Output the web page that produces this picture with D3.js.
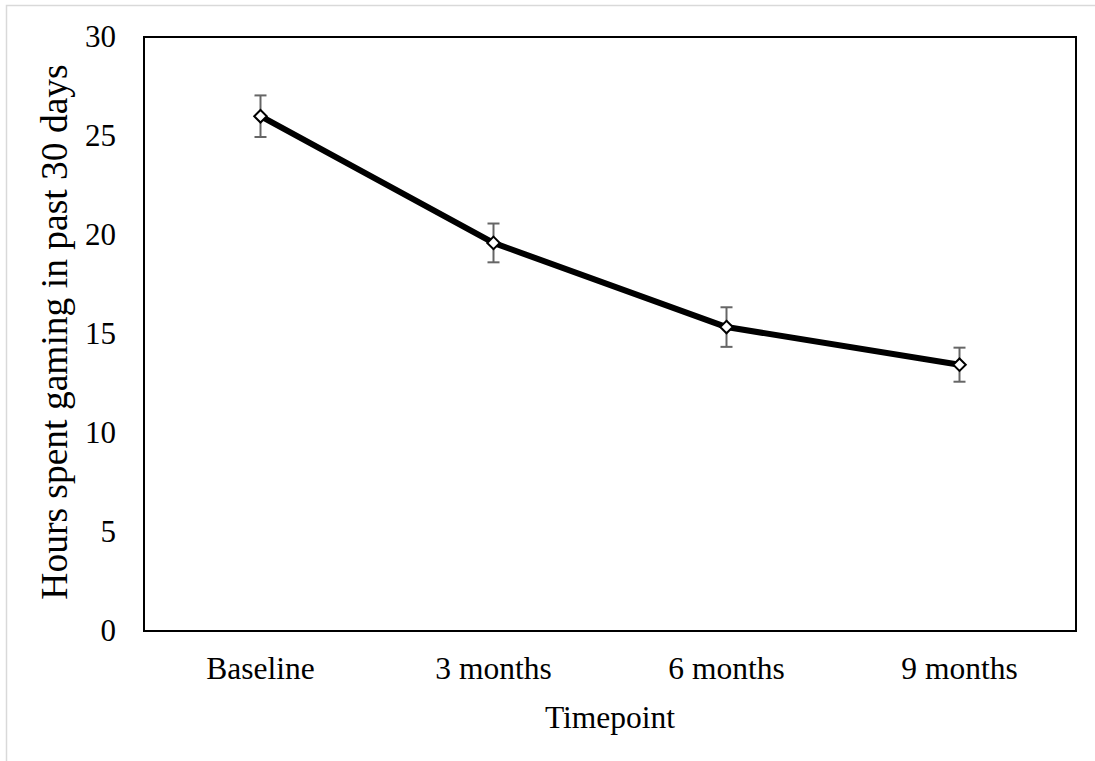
<!DOCTYPE html>
<html>
<head>
<meta charset="utf-8">
<script src="https://cdn.jsdelivr.net/npm/d3@7"></script>
<style>
  body { margin: 0; background: #fff; }
  svg text { font-family: "Liberation Serif", "Times New Roman", serif; fill: #000; }
</style>
</head>
<body>
<svg id="chart"></svg>
<script>
const width = 1095;
const height = 761;
const margin = {top: 37, right: 20, bottom: 130, left: 144};

const timepoints = ["Baseline", "3 months", "6 months", "9 months"];
const hours = [26.0, 19.6, 15.35, 13.45];
const errors = [1.05, 0.98, 1.0, 0.86];
const yTicks = [0, 5, 10, 15, 20, 25, 30];

const data = timepoints.map((t, i) => ({t: t, v: hours[i], e: errors[i]}));

const svg = d3.select("#chart")
    .attr("width", width)
    .attr("height", height);

// outer chart border
svg.append("rect")
    .attr("x", 6.5).attr("y", 5.5)
    .attr("width", width).attr("height", height)
    .attr("fill", "none")
    .attr("stroke", "#d9d9d9")
    .attr("stroke-width", 1.5);

const x = d3.scaleBand()
    .domain(timepoints)
    .range([margin.left, 1076]);

const y = d3.scaleLinear()
    .domain([0, 30])
    .range([631, margin.top]);

// plot frame
svg.append("rect")
    .attr("x", margin.left).attr("y", y(30))
    .attr("width", 1076 - margin.left).attr("height", y(0) - y(30))
    .attr("fill", "none")
    .attr("stroke", "#000")
    .attr("stroke-width", 2);

// y axis labels
const yAxis = d3.axisLeft(y).tickValues(yTicks).tickSize(0).tickPadding(28);
svg.append("g")
    .attr("transform", `translate(${margin.left},0)`)
    .call(yAxis)
    .call(g => g.select(".domain").remove())
    .selectAll("text")
        .style("font-family", "Liberation Serif")
        .style("font-size", "31px");

// x axis labels
const xAxis = d3.axisBottom(x).tickSize(0).tickPadding(26);
svg.append("g")
    .attr("transform", `translate(0,${y(0)})`)
    .call(xAxis)
    .call(g => g.select(".domain").remove())
    .selectAll("text")
        .style("font-family", "Liberation Serif")
        .style("font-size", "31.5px");

// axis titles
svg.append("text")
    .attr("x", (margin.left + 1076) / 2)
    .attr("y", 728)
    .attr("text-anchor", "middle")
    .style("font-size", "31.5px")
    .text("Timepoint");

svg.append("text")
    .attr("transform", `translate(67,${(y(0) + y(30)) / 2 - 2}) rotate(-90)`)
    .attr("text-anchor", "middle")
    .style("font-size", "37.5px")
    .text("Hours spent gaming in past 30 days");

const cx = d => x(d.t) + x.bandwidth() / 2;

// error bars
const eb = svg.append("g")
    .attr("stroke", "#666")
    .attr("stroke-width", 2);
eb.selectAll(".err")
    .data(data)
    .enter()
    .append("line")
        .attr("x1", cx).attr("x2", cx)
        .attr("y1", d => y(d.v + d.e))
        .attr("y2", d => y(d.v - d.e));
eb.selectAll(".capTop")
    .data(data)
    .enter()
    .append("line")
        .attr("x1", d => cx(d) - 6).attr("x2", d => cx(d) + 6)
        .attr("y1", d => y(d.v + d.e)).attr("y2", d => y(d.v + d.e));
eb.selectAll(".capBot")
    .data(data)
    .enter()
    .append("line")
        .attr("x1", d => cx(d) - 6).attr("x2", d => cx(d) + 6)
        .attr("y1", d => y(d.v - d.e)).attr("y2", d => y(d.v - d.e));

// line
const lineGen = d3.line()
    .x(cx)
    .y(d => y(d.v));
svg.append("path")
    .datum(data)
    .attr("d", lineGen)
    .attr("fill", "none")
    .attr("stroke", "#000")
    .attr("stroke-width", 6)
    .attr("stroke-linejoin", "round");

// markers
svg.selectAll(".marker")
    .data(data)
    .enter()
    .append("path")
        .attr("d", d3.symbol().type(d3.symbolDiamond2).size(100))
        .attr("transform", d => `translate(${cx(d)},${y(d.v)})`)
        .attr("fill", "#fff")
        .attr("stroke", "#000")
        .attr("stroke-width", 2);
</script>
</body>
</html>
